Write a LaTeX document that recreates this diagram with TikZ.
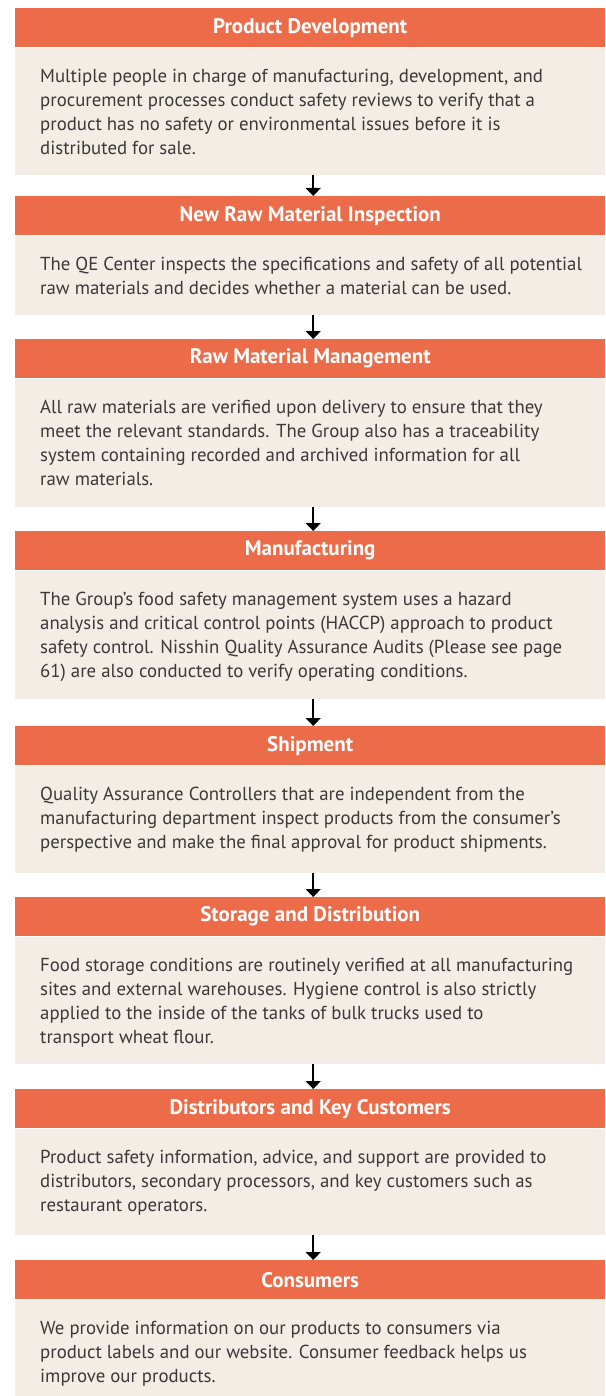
\documentclass[tikz,border=0pt]{standalone}
\usepackage{fontspec}
\setmainfont{PT Sans}
\usepackage{tikz}
\usetikzlibrary{arrows.meta}

\definecolor{headorange}{HTML}{EC6C4A}
\definecolor{bodybeige}{HTML}{F3EDE6}
\definecolor{bodyink}{HTML}{3B3837}

\begin{document}
\begin{tikzpicture}[x=1pt, y=1pt,
        headbox/.style={fill=headorange, text=white, anchor=north west, minimum width=590pt, minimum height=39pt, inner sep=0pt, font=\fontsize{21}{24}\selectfont\bfseries},
        bodybox/.style={fill=bodybeige, anchor=north, minimum width=590pt, inner sep=0pt},
        bodytext/.style={text=bodyink, anchor=north west, align=left, inner sep=0pt, xshift=25pt, yshift=-18.2pt, font=\fontsize{18.8}{24}\selectfont},
        flowarrow/.style={line width=1.6pt, -{Triangle[length=8pt, width=15pt]}}]
        \useasboundingbox (0, 0) rectangle (605, -1396);
        %
        \node[headbox] (h1) at (15,   -8) {Product Development};
        \node[headbox] (h2) at (15, -196) {New Raw Material Inspection};
        \node[headbox] (h3) at (15, -339) {Raw Material Management};
        \node[headbox] (h4) at (15, -531) {Manufacturing};
        \node[headbox] (h5) at (15, -726) {Shipment};
        \node[headbox] (h6) at (15, -897) {Storage and Distribution};
        \node[headbox] (h7) at (15,-1089) {Distributors and Key Customers};
        \node[headbox] (h8) at (15,-1260) {Consumers};
        %
        \node[bodybox, minimum height=127pt] (b1) at (h1.south) {};
        \node[bodybox, minimum height=79pt]  (b2) at (h2.south) {};
        \node[bodybox, minimum height=128pt] (b3) at (h3.south) {};
        \node[bodybox, minimum height=128pt] (b4) at (h4.south) {};
        \node[bodybox, minimum height=107pt] (b5) at (h5.south) {};
        \node[bodybox, minimum height=127pt] (b6) at (h6.south) {};
        \node[bodybox, minimum height=106pt] (b7) at (h7.south) {};
        \node[bodybox, minimum height=97pt]  (b8) at (h8.south) {};
        %
        \node[bodytext] (t1) at (b1.north west) {\strut Multiple people in charge of manufacturing, development, and\\procurement processes conduct safety reviews to verify that a\\product has no safety or environmental issues before it is\\distributed for sale.};
        \node[bodytext] (t2) at (b2.north west) {\strut The QE Center inspects the specifications and safety of all potential\\raw materials and decides whether a material can be used.};
        \node[bodytext] (t3) at (b3.north west) {\strut All raw materials are verified upon delivery to ensure that they\\meet the relevant standards. The Group also has a traceability\\system containing recorded and archived information for all\\raw materials.};
        \node[bodytext] (t4) at (b4.north west) {\strut The Group’s food safety management system uses a hazard\\analysis and critical control points (HACCP) approach to product\\safety control. Nisshin Quality Assurance Audits (Please see page\\61) are also conducted to verify operating conditions.};
        \node[bodytext] (t5) at (b5.north west) {\strut Quality Assurance Controllers that are independent from the\\manufacturing department inspect products from the consumer’s\\perspective and make the final approval for product shipments.};
        \node[bodytext] (t6) at (b6.north west) {\strut Food storage conditions are routinely verified at all manufacturing\\sites and external warehouses. Hygiene control is also strictly\\applied to the inside of the tanks of bulk trucks used to\\transport wheat flour.};
        \node[bodytext] (t7) at (b7.north west) {\strut Product safety information, advice, and support are provided to\\distributors, secondary processors, and key customers such as\\restaurant operators.};
        \node[bodytext] (t8) at (b8.north west) {\strut We provide information on our products to consumers via\\product labels and our website. Consumer feedback helps us\\improve our products.};
        %
        \draw[flowarrow] ([xshift=3pt]b1.south) -- ([xshift=3pt]h2.north);
        \draw[flowarrow] ([xshift=3pt]b2.south) -- ([xshift=3pt]h3.north);
        \draw[flowarrow] ([xshift=3pt]b3.south) -- ([xshift=3pt]h4.north);
        \draw[flowarrow] ([xshift=3pt]b4.south) -- ([xshift=3pt]h5.north);
        \draw[flowarrow] ([xshift=3pt]b5.south) -- ([xshift=3pt]h6.north);
        \draw[flowarrow] ([xshift=3pt]b6.south) -- ([xshift=3pt]h7.north);
        \draw[flowarrow] ([xshift=3pt]b7.south) -- ([xshift=3pt]h8.north);
    \end{tikzpicture}
\end{document}
